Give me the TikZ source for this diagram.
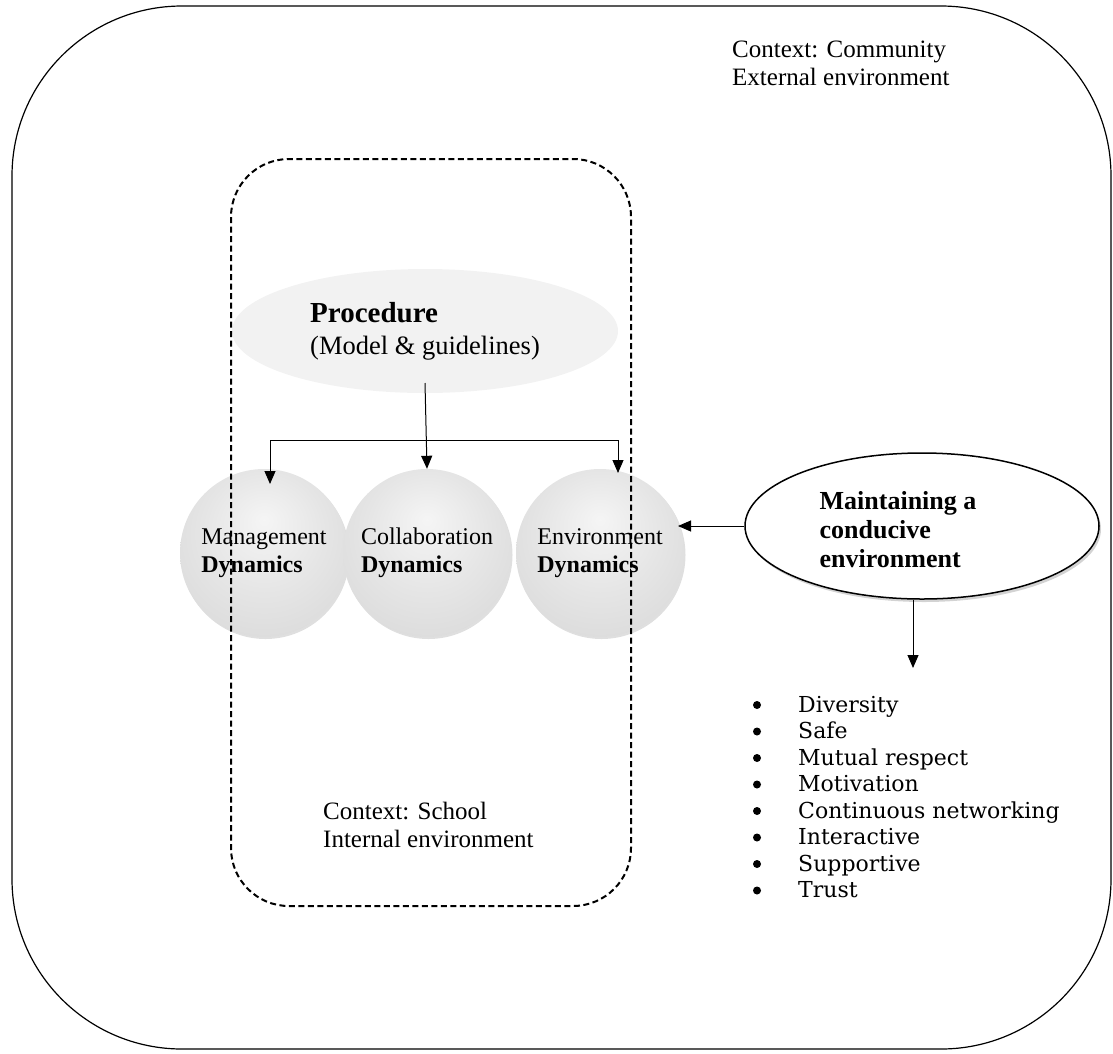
\documentclass[tikz,border=0pt]{standalone}
\usepackage{fontspec}
\setmainfont{Liberation Serif}
\newfontfamily\listfont{DejaVu Serif}
\usetikzlibrary{positioning,shapes.geometric,shadows,arrows.meta}

\pgfdeclareradialshading{softball}{\pgfpoint{0bp}{10bp}}{%
  color(0bp)=(gray!8); color(18bp)=(gray!20); color(38bp)=(gray!32); color(50bp)=(gray!46)}

\tikzset{
  frame/.style={line width=1.2pt, rounded corners=170pt},
  schoolbox/.style={line width=2pt, dash pattern=on 6pt off 3.5pt, rounded corners=58pt},
  txt/.style={inner sep=0pt, align=left, font=\fontsize{25}{28}\selectfont},
  sphere/.style={circle, minimum size=168pt, inner sep=0pt, shading=softball, align=left,
    font=\fontsize{24}{28}\selectfont,
    drop shadow={opacity=0.25, shadow xshift=1.5pt, shadow yshift=-2pt}},
  procell/.style={ellipse, fill=gray!10, minimum width=386pt, minimum height=124pt,
    align=left, font=\fontsize{26.5}{32}\selectfont},
  maintell/.style={ellipse, draw, line width=1.5pt, fill=white, minimum width=354pt,
    minimum height=146pt, drop shadow={opacity=0.35, shadow xshift=2pt, shadow yshift=-3pt}},
  bold/.style={txt, font=\bfseries\fontsize{26}{29}\selectfont},
  tip/.style={-{Triangle[width=11pt,length=13pt]}, line width=1pt},
  bulletdot/.style={circle, fill, inner sep=0pt, minimum size=8pt},
  listitem/.style={anchor=base west, inner sep=0pt, font=\listfont\fontsize{22}{26}\selectfont},
}

\begin{document}
\begin{tikzpicture}[x=1pt,y=-1pt]
    \useasboundingbox (0,0) rectangle (1113,1053);
    %% Outer context: community
    \draw[frame] (12,6) rectangle (1111,1049);
    \node[txt, anchor=north west] (community) at (732,41) {Context: Community\\External environment};

    %% Procedure and dynamics
    \node[procell] (proc) at (425,331)
      {{\fontsize{29}{32}\selectfont\bfseries Procedure}\\(Model \& guidelines)};
    \node[sphere] (mgmt) at (264,553) {Management\\\textbf{Dynamics}};
    \node[sphere] (collab) at (427,553) {Collaboration\\\textbf{Dynamics}};
    \node[sphere] (envdyn) at (600,553) {Environment\\\textbf{Dynamics}};

    %% Inner context: school
    \draw[schoolbox] (231,159) rectangle (631,906);
    \node[txt, anchor=north west] (school) at (323,802) {Context: School\\Internal environment};

    %% Branches from the procedure
    \coordinate (procout) at (425,383);
    \coordinate (brL) at (270,440);
    \coordinate (brR) at (618,440);
    \coordinate (tipL) at (270,484);
    \coordinate (tipR) at (618,473);
    \draw[line width=1pt] (brL) -- (brR);
    \draw[tip] (brL) -- (tipL);
    \draw[tip] (brR) -- (tipR);
    \draw[tip] (procout) -- (collab.north);

    %% Conducive environment
    \node[maintell] (maint) at (922,526) {};
    \node[bold] (mainttxt) at (898,530) {Maintaining a\\conducive\\environment};
    \coordinate (envin) at (678,526);
    \draw[tip] (maint.west) -- (envin);
    \coordinate (listtop) at (913,668);
    \draw[tip] (listtop |- maint.south) -- (listtop);

    %% Qualities
    \foreach \txt [count=\i] in {Diversity, Safe, Mutual respect, Motivation,
      Continuous networking, Interactive, Supportive, Trust}{
      \node[bulletdot] (dot\i) at (757,{705+26.5*(\i-1)}) {};
      \node[listitem] (item\i) at (798,{712+26.5*(\i-1)}) {\txt};
    }
\end{tikzpicture}
\end{document}
